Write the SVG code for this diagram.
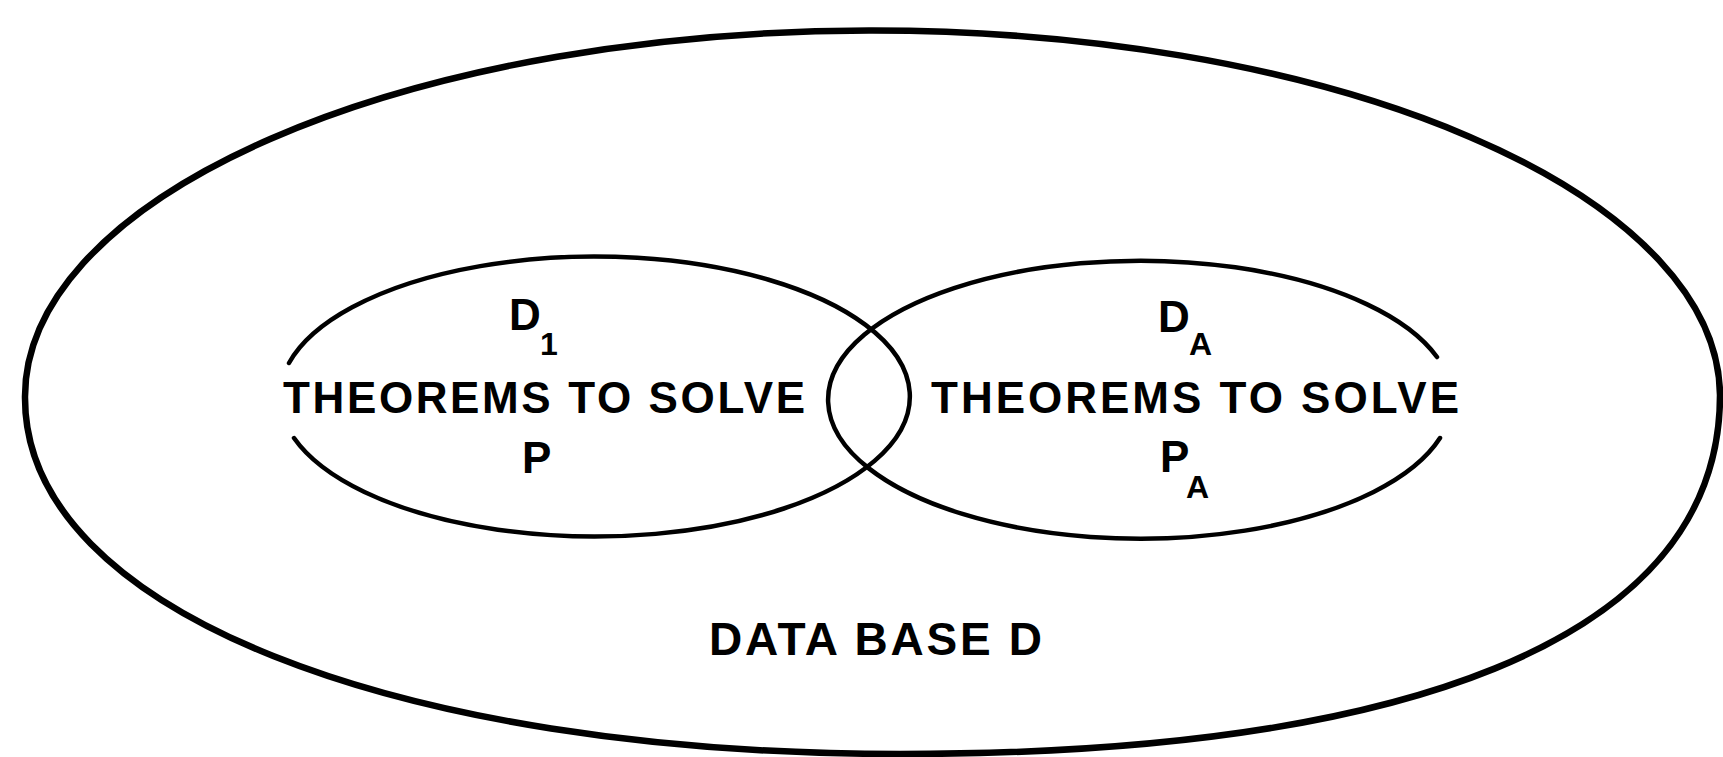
<svg xmlns="http://www.w3.org/2000/svg" width="1723" height="757" viewBox="0 0 1723 757">
<style>
.outline{fill:none;stroke:#000;stroke-linecap:round;stroke-linejoin:round}
.lbl{font-family:"Liberation Sans Narrow","Liberation Sans",Arial,sans-serif;font-weight:bold;fill:#000}
.main{font-size:44px}
.sub{font-size:32px}
</style>
<rect width="1723" height="757" fill="#fff"/>
<g id="database-D">
<path class="outline" stroke-width="6.5" d="M 25 398 A 847.5 366 0 0 1 1720 395 C 1720 646 1392 754 900 754 C 397 754 25 612 25 398 Z"/>
<text class="lbl" x="709" y="655" font-size="46" textLength="333" lengthAdjust="spacing">DATA BASE D</text>
</g>
<g id="subset-D1">
<path class="outline" stroke-width="4.5" d="M 289 363 A 315 140 0 1 1 294 438"/>
<text class="lbl main" x="509" y="330">D<tspan class="sub" x="540" y="355">1</tspan></text>
<text class="lbl main" x="283" y="413" textLength="522" lengthAdjust="spacing">THEOREMS TO SOLVE</text>
<text class="lbl main" x="522" y="473">P</text>
</g>
<g id="subset-DA">
<path class="outline" stroke-width="4.5" d="M 1440 438 A 312 139 0 1 1 1437 357"/>
<text class="lbl main" x="1158" y="332">D<tspan class="sub" x="1189" y="355">A</tspan></text>
<text class="lbl main" x="931" y="413" textLength="528" lengthAdjust="spacing">THEOREMS TO SOLVE</text>
<text class="lbl main" x="1160" y="472">P<tspan class="sub" x="1186" y="498">A</tspan></text>
</g>
</svg>
